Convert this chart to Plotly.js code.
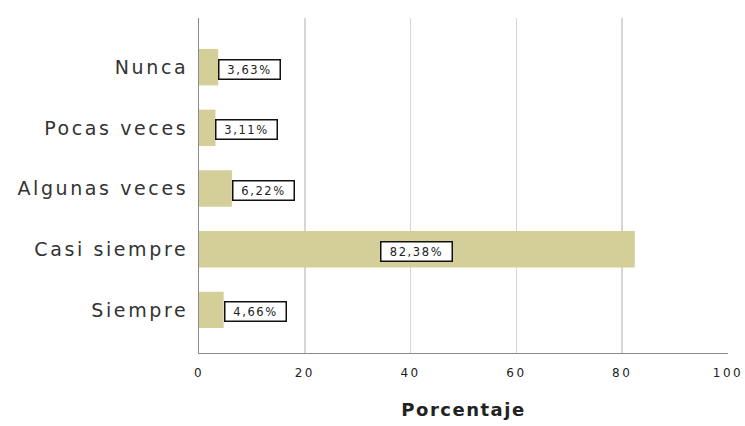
<!DOCTYPE html>
<html>
<head>
<meta charset="utf-8">
<script src="https://cdn.plot.ly/plotly-3.0.1.min.js"></script>
<style>
  html, body { margin: 0; padding: 0; background: #fff; }
  #chart { width: 745px; height: 426px; }
  .ytick text { letter-spacing: 2.6px; }
  .xtick text { letter-spacing: 2.5px; }
  .g-xtitle text { letter-spacing: 1.5px; }
  .annotation-text { letter-spacing: 1.6px; }
</style>
</head>
<body>
<div id="chart"></div>
<script>
const categories = ["Nunca", "Pocas veces", "Algunas veces", "Casi siempre", "Siempre"];
const percentages = [3.63, 3.11, 6.22, 82.38, 4.66];
const valueLabels = ["3,63%", "3,11%", "6,22%", "82,38%", "4,66%"];
const xTickValues = [0, 20, 40, 60, 80, 100];
const xTitle = "Porcentaje";

const barColor = "#d4cf98";

const trace = {
  type: "bar",
  orientation: "h",
  y: categories,
  x: percentages,
  width: 0.6,
  marker: { color: barColor, line: { width: 0 } },
  hoverinfo: "skip"
};

const annotations = percentages.map((v, i) => {
  const inside = v > 20;
  return {
    x: inside ? v / 2 : v,
    y: categories[i],
    xref: "x",
    yref: "y",
    text: valueLabels[i],
    showarrow: false,
    xanchor: inside ? "center" : "left",
    yanchor: "middle",
    xshift: inside ? 0 : 0,
    yshift: -2,
    font: { family: "DejaVu Sans", size: 11.5, color: "#222" },
    bgcolor: "#ffffff",
    bordercolor: "#111111",
    borderwidth: 1.5,
    borderpad: 2,
    width: inside ? 66 : 56,
    height: 14
  };
});

const layout = {
  width: 745,
  height: 426,
  margin: { l: 199, r: 17, t: 18, b: 73, pad: 0 },
  paper_bgcolor: "#ffffff",
  plot_bgcolor: "#ffffff",
  showlegend: false,
  xaxis: {
    range: [0, 100],
    tickvals: xTickValues,
    ticktext: xTickValues.map(String),
    showgrid: true,
    gridcolor: "#d6d6d6",
    gridwidth: 1.5,
    zeroline: false,
    showline: true,
    linecolor: "#8a8a8a",
    linewidth: 1,
    ticks: "",
    ticklabelstandoff: 9,
    tickfont: { family: "DejaVu Sans", size: 12, color: "#222" },
    title: {
      text: xTitle,
      font: { family: "DejaVu Sans", size: 18, color: "#222", weight: "bold" },
      standoff: 23
    },
    fixedrange: true
  },
  yaxis: {
    type: "category",
    categoryorder: "array",
    categoryarray: categories,
    range: [4.71, -0.81],
    showgrid: false,
    zeroline: false,
    showline: true,
    linecolor: "#8a8a8a",
    linewidth: 1,
    ticks: "",
    ticklabelstandoff: 6,
    tickfont: { family: "DejaVu Sans", size: 19, color: "#333" },
    fixedrange: true
  },
  annotations: annotations
};

Plotly.newPlot("chart", [trace], layout, { displayModeBar: false, staticPlot: true });
</script>
</body>
</html>
